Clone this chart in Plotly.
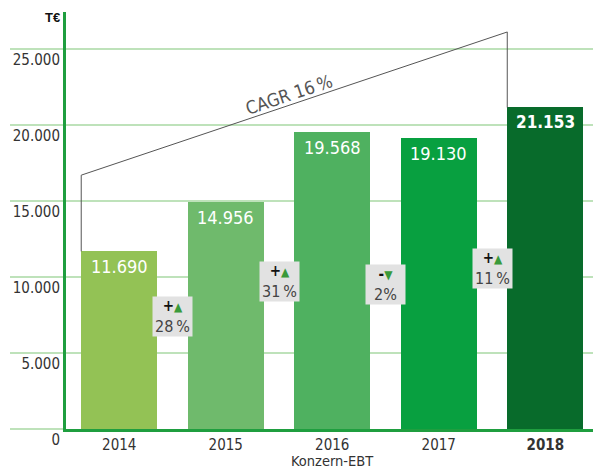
import plotly.graph_objects as go

# ---- data ----
years = ["2014", "2015", "2016", "2017", "2018"]
values = [11690, 14956, 19568, 19130, 21153]
value_labels = ["11.690", "14.956", "19.568", "19.130", "21.153"]
bar_colors = ["#93c255", "#6fba6c", "#4fb160", "#08a040", "#086b2b"]
y_ticks = [0, 5000, 10000, 15000, 20000, 25000]
y_tick_labels = ["0", "5.000", "10.000", "15.000", "20.000", "25.000"]
change_labels = ["28\u2009%", "31\u2009%", "2%", "11\u2009%"]
change_up = [True, True, False, True]
cagr_label = "CAGR 16\u2009%"

# ---- layout constants ----
FONT = "DejaVu Sans Condensed, Liberation Sans, sans-serif"
YMAX = 27434
XMIN, XMAX = -0.5, 4.448
BAR_W = 0.714
badge_y = [7434, 9737, 9539, 10592]
cagr_y = [16700, 26120]
GRID = "#a9d8a3"
AXIS_GREEN = "#1f9e3f"

x = list(range(len(years)))

fig = go.Figure()
fig.add_trace(go.Bar(
    x=x, y=values, width=BAR_W,
    marker=dict(color=bar_colors, line=dict(width=0)),
    hoverinfo="skip", showlegend=False,
))

shapes = []
# gridlines (extend left beyond the axis)
for v in y_ticks[1:]:
    shapes.append(dict(type="line", xref="paper", yref="paper",
                       x0=-0.1063, x1=1, y0=v / YMAX, y1=v / YMAX,
                       line=dict(color=GRID, width=1.5), layer="below"))
# left extension of baseline
shapes.append(dict(type="line", xref="paper", yref="paper",
                   x0=-0.1063, x1=0, y0=0, y1=0,
                   line=dict(color=GRID, width=1.5), layer="below"))
# CAGR bracket
x0 = x[0] - BAR_W / 2
x1 = x[-1] - BAR_W / 2
shapes.append(dict(type="path", xref="x", yref="y",
                   path=f"M {x0},{values[0]} L {x0},{cagr_y[0]} L {x1},{cagr_y[1]} L {x1},{values[-1]}",
                   line=dict(color="#555555", width=1)))

annotations = []
# value labels inside bars
for i, (v, lab) in enumerate(zip(values, value_labels)):
    last = i == len(values) - 1
    txt = f"<b>{lab}</b>" if last else lab
    annotations.append(dict(x=x[i], y=v, xref="x", yref="y", text=txt,
                            showarrow=False, yanchor="top", yshift=-3,
                            font=dict(family=FONT, size=17 if last else 18, color="white")))
# change badges
for i, (lab, up) in enumerate(zip(change_labels, change_up)):
    sign = "+" if up else "-"
    tri = "\u25B2" if up else "\u25BC"
    txt = (f"<span style='font-size:15px;color:#111'><b>{sign}</b></span>"
           f"<span style='font-size:12px;color:#3a9a3a'>{tri}</span><br>{lab}")
    annotations.append(dict(x=x[i] + 0.5, y=badge_y[i], xref="x", yref="y",
                            text=txt, showarrow=False, width=37, height=37,
                            bgcolor="#e2e2e2", borderpad=1,
                            font=dict(family=FONT, size=16, color="#444444")))
# CAGR label
annotations.append(dict(x=1.594, y=21974, xref="x", yref="y", text=cagr_label,
                        showarrow=False, textangle=-18.6,
                        font=dict(family=FONT, size=18, color="#555555")))
# unit label
annotations.append(dict(x=-0.008, y=1, xref="paper", yref="paper", text="<b>T€</b>",
                        showarrow=False, xanchor="right", yanchor="top", yshift=4,
                        font=dict(family="Liberation Sans, Arial, sans-serif", size=13, color="#111")))
# axis title
annotations.append(dict(x=2, y=0, xref="x", yref="paper", text="Konzern-EBT",
                        showarrow=False, yanchor="top", yshift=-22,
                        font=dict(family=FONT, size=14.5, color="#333")))

ticktext = [f"<b>{y}</b>" if i == len(years) - 1 else y for i, y in enumerate(years)]

fig.update_layout(
    width=593, height=469,
    margin=dict(l=66, r=0, t=12, b=40),
    plot_bgcolor="white", paper_bgcolor="white",
    shapes=shapes, annotations=annotations,
    bargap=0,
    xaxis=dict(range=[XMIN, XMAX], tickvals=x, ticktext=ticktext,
               showgrid=False, zeroline=False, showline=True, automargin=False,
               linecolor=AXIS_GREEN, linewidth=3, ticks="",
               tickfont=dict(family=FONT, size=15, color="#333")),
    yaxis=dict(range=[0, YMAX], tickvals=y_ticks, ticktext=y_tick_labels,
               showgrid=False, zeroline=False, showline=True, automargin=False,
               linecolor=AXIS_GREEN, linewidth=3, ticks="",
               ticklabelshift=11,
               tickfont=dict(family=FONT, size=15, color="#333")),
)

fig.write_html("out.html", config={"displayModeBar": False},
               post_script="document.body.style.margin='0';document.body.style.overflow='hidden';")
